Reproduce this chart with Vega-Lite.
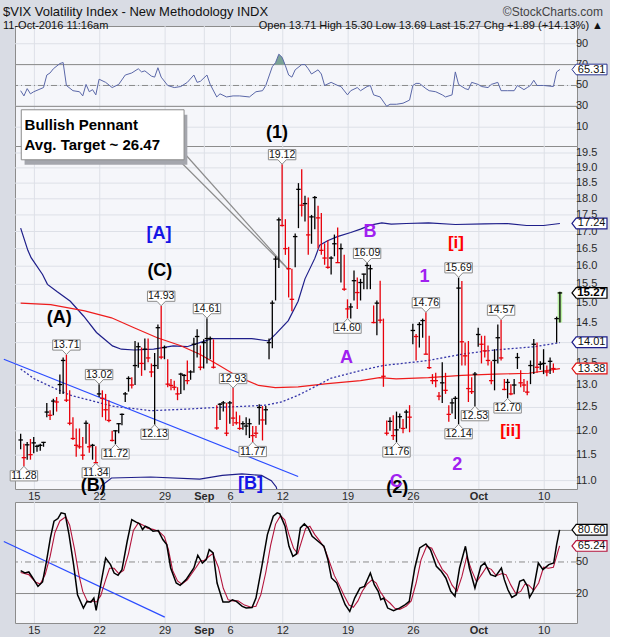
{
  "$schema": "https://vega.github.io/schema/vega-lite/v6.json",
  "background": "#d9dce4",
  "padding": {"left": 0, "top": 5, "right": 0, "bottom": 0},
  "bounds": "flush",
  "spacing": 0,
  "title": {"text": "$VIX  Volatility Index - New Methodology  INDX", "subtitle": "11-Oct-2016 11:16am", "anchor": "start", "frame": "group", "font": "Liberation Sans", "fontSize": 13, "fontWeight": "normal", "color": "#111111", "subtitleFont": "Liberation Sans", "subtitleFontSize": 11, "subtitleColor": "#111111", "subtitlePadding": 1, "offset": 1, "dx": -12, "dy": 27},
  "config": {
    "font": "Liberation Sans",
    "view": {"stroke": "#8c8c8c", "strokeWidth": 1, "fill": "#f5f6fa"},
    "axis": {"disable": true}
  },
  "resolve": {"scale": {"x": "shared", "y": "independent", "color": "independent", "stroke": "independent"}},
  "datasets": {
    "bars": [
      {"i":0,"h":11.94,"l":11.62,"c":11.81,"d":"up"},{"i":1,"h":11.73,"l":11.28,"c":11.45,"d":"down"},{"i":2,"h":11.77,"l":11.41,"c":11.71,"d":"up"},{"i":3,"h":11.83,"l":11.41,"c":11.51,"d":"down"},
      {"i":4,"h":11.87,"l":11.54,"c":11.75,"d":"up"},{"i":5,"h":11.71,"l":11.57,"c":11.68,"d":"up"},{"i":6,"h":11.73,"l":11.59,"c":11.70,"d":"up"},{"i":7,"h":11.77,"l":11.67,"c":11.76,"d":"up"},
      {"i":8,"h":12.60,"l":12.29,"c":12.40,"d":"up"},{"i":9,"h":12.44,"l":12.23,"c":12.33,"d":"down"},{"i":10,"h":12.69,"l":12.33,"c":12.64,"d":"up"},{"i":11,"h":12.73,"l":12.41,"c":12.62,"d":"down"},
      {"i":12,"h":13.24,"l":12.80,"c":13.01,"d":"up"},{"i":13,"h":13.64,"l":12.80,"c":13.57,"d":"up"},{"i":14,"h":13.71,"l":12.62,"c":12.66,"d":"down"},{"i":15,"h":12.88,"l":12.12,"c":12.16,"d":"down"},
      {"i":16,"h":12.29,"l":11.81,"c":11.84,"d":"down"},{"i":17,"h":12.05,"l":11.47,"c":11.70,"d":"down"},{"i":18,"h":12.05,"l":11.63,"c":11.67,"d":"down"},{"i":19,"h":11.87,"l":11.41,"c":11.50,"d":"down"},
      {"i":20,"h":12.22,"l":11.73,"c":12.16,"d":"up"},{"i":21,"h":12.15,"l":11.55,"c":11.67,"d":"down"},{"i":22,"h":11.73,"l":11.41,"c":11.70,"d":"up"},{"i":23,"h":11.68,"l":11.34,"c":11.35,"d":"down"},
      {"i":24,"h":13.02,"l":12.73,"c":12.80,"d":"up"},{"i":25,"h":12.88,"l":12.29,"c":12.70,"d":"down"},{"i":26,"h":12.80,"l":12.22,"c":12.45,"d":"down"},{"i":27,"h":12.66,"l":12.18,"c":12.22,"d":"down"},
      {"i":28,"h":12.00,"l":11.78,"c":11.80,"d":"down"},{"i":29,"h":12.01,"l":11.72,"c":12.00,"d":"up"},{"i":30,"h":12.16,"l":11.95,"c":12.15,"d":"up"},{"i":31,"h":12.37,"l":12.12,"c":12.35,"d":"up"},
      {"i":32,"h":12.84,"l":12.62,"c":12.80,"d":"up"},{"i":33,"h":13.20,"l":12.85,"c":13.15,"d":"up"},{"i":34,"h":13.18,"l":12.92,"c":13.00,"d":"down"},{"i":35,"h":14.04,"l":13.00,"c":13.45,"d":"up"},
      {"i":36,"h":14.00,"l":13.40,"c":13.90,"d":"up"},{"i":37,"h":13.88,"l":13.21,"c":13.50,"d":"down"},{"i":38,"h":14.10,"l":13.34,"c":13.84,"d":"up"},{"i":39,"h":14.10,"l":13.53,"c":13.63,"d":"down"},
      {"i":40,"h":13.50,"l":13.18,"c":13.30,"d":"down"},{"i":41,"h":13.75,"l":12.13,"c":13.45,"d":"up"},{"i":42,"h":14.45,"l":13.37,"c":14.37,"d":"up"},{"i":43,"h":14.93,"l":13.60,"c":13.65,"d":"down"},
      {"i":44,"h":13.93,"l":13.60,"c":13.88,"d":"up"},{"i":45,"h":13.60,"l":12.95,"c":13.02,"d":"down"},{"i":46,"h":13.14,"l":12.88,"c":12.99,"d":"down"},{"i":47,"h":13.10,"l":12.88,"c":12.95,"d":"down"},
      {"i":48,"h":12.95,"l":12.66,"c":12.80,"d":"down"},{"i":49,"h":13.28,"l":12.80,"c":13.25,"d":"up"},{"i":50,"h":13.25,"l":12.88,"c":13.22,"d":"up"},{"i":51,"h":13.57,"l":13.02,"c":13.10,"d":"down"},
      {"i":52,"h":13.34,"l":13.12,"c":13.30,"d":"up"},{"i":53,"h":14.12,"l":13.28,"c":13.96,"d":"up"},{"i":54,"h":14.33,"l":13.64,"c":14.15,"d":"up"},{"i":55,"h":13.93,"l":13.34,"c":13.41,"d":"down"},
      {"i":56,"h":14.08,"l":13.38,"c":14.00,"d":"up"},{"i":57,"h":14.61,"l":13.50,"c":14.10,"d":"up"},{"i":58,"h":14.15,"l":13.60,"c":14.10,"d":"up"},{"i":59,"h":14.08,"l":13.38,"c":13.41,"d":"down"},
      {"i":60,"h":12.55,"l":12.02,"c":12.06,"d":"down"},{"i":61,"h":12.60,"l":12.23,"c":12.57,"d":"up"},{"i":62,"h":12.64,"l":12.41,"c":12.60,"d":"up"},{"i":63,"h":12.60,"l":11.89,"c":11.95,"d":"down"},
      {"i":64,"h":12.64,"l":12.15,"c":12.60,"d":"up"},{"i":65,"h":12.93,"l":12.10,"c":12.27,"d":"down"},{"i":66,"h":12.41,"l":12.13,"c":12.17,"d":"down"},{"i":67,"h":12.33,"l":12.02,"c":12.05,"d":"down"},
      {"i":68,"h":12.20,"l":12.02,"c":12.15,"d":"up"},{"i":69,"h":12.29,"l":11.91,"c":12.10,"d":"up"},{"i":70,"h":12.26,"l":11.85,"c":12.15,"d":"up"},{"i":71,"h":12.10,"l":11.77,"c":11.90,"d":"down"},
      {"i":72,"h":12.10,"l":11.85,"c":11.95,"d":"down"},{"i":73,"h":12.57,"l":12.13,"c":12.50,"d":"up"},{"i":74,"h":12.53,"l":11.80,"c":12.23,"d":"down"},{"i":75,"h":12.53,"l":12.13,"c":12.45,"d":"up"},
      {"i":76,"h":14.10,"l":13.60,"c":14.00,"d":"up"},{"i":77,"h":15.07,"l":13.86,"c":15.00,"d":"up"},{"i":78,"h":16.28,"l":15.07,"c":16.20,"d":"up"},{"i":79,"h":17.42,"l":15.95,"c":17.35,"d":"up"},
      {"i":80,"h":19.12,"l":17.15,"c":17.18,"d":"down"},{"i":81,"h":17.37,"l":16.32,"c":16.50,"d":"down"},{"i":82,"h":16.55,"l":15.15,"c":15.93,"d":"down"},{"i":83,"h":15.93,"l":14.79,"c":15.10,"d":"down"},
      {"i":84,"h":16.94,"l":15.97,"c":16.85,"d":"up"},{"i":85,"h":18.50,"l":17.10,"c":18.30,"d":"up"},{"i":86,"h":18.95,"l":17.45,"c":17.80,"d":"down"},{"i":87,"h":18.10,"l":17.30,"c":17.85,"d":"up"},
      {"i":88,"h":18.04,"l":16.32,"c":16.90,"d":"down"},{"i":89,"h":17.50,"l":16.64,"c":17.44,"d":"up"},{"i":90,"h":18.09,"l":17.07,"c":18.04,"d":"up"},{"i":91,"h":17.78,"l":16.50,"c":17.41,"d":"down"},
      {"i":92,"h":17.56,"l":16.32,"c":16.45,"d":"down"},{"i":93,"h":16.65,"l":16.04,"c":16.23,"d":"down"},{"i":94,"h":16.74,"l":15.93,"c":15.97,"d":"down"},{"i":95,"h":16.28,"l":15.77,"c":16.23,"d":"up"},
      {"i":96,"h":16.91,"l":16.28,"c":16.64,"d":"up"},{"i":97,"h":17.12,"l":16.10,"c":16.10,"d":"down"},{"i":98,"h":16.65,"l":15.55,"c":16.50,"d":"up"},{"i":99,"h":16.32,"l":15.33,"c":15.37,"d":"down"},
      {"i":100,"h":15.10,"l":14.60,"c":14.85,"d":"down"},{"i":101,"h":15.00,"l":14.60,"c":14.90,"d":"up"},{"i":102,"h":15.88,"l":15.07,"c":15.60,"d":"up"},{"i":103,"h":15.69,"l":14.85,"c":15.28,"d":"down"},
      {"i":104,"h":15.65,"l":15.07,"c":15.55,"d":"up"},{"i":105,"h":15.79,"l":15.37,"c":15.78,"d":"up"},{"i":106,"h":16.09,"l":15.37,"c":16.02,"d":"up"},{"i":107,"h":16.04,"l":15.37,"c":15.93,"d":"up"},
      {"i":108,"h":14.94,"l":14.48,"c":14.50,"d":"down"},{"i":109,"h":15.07,"l":14.18,"c":15.00,"d":"up"},{"i":110,"h":15.60,"l":14.48,"c":14.56,"d":"down"},{"i":111,"h":14.60,"l":12.96,"c":13.20,"d":"down"},
      {"i":112,"h":12.22,"l":11.90,"c":11.95,"d":"down"},{"i":113,"h":12.29,"l":12.00,"c":12.20,"d":"up"},{"i":114,"h":12.33,"l":11.81,"c":11.90,"d":"down"},{"i":115,"h":12.41,"l":11.76,"c":12.02,"d":"up"},
      {"i":116,"h":12.37,"l":12.05,"c":12.30,"d":"up"},{"i":117,"h":12.25,"l":11.95,"c":12.05,"d":"down"},{"i":118,"h":12.45,"l":12.05,"c":12.40,"d":"up"},{"i":119,"h":12.55,"l":11.97,"c":12.29,"d":"down"},
      {"i":120,"h":14.47,"l":13.96,"c":14.30,"d":"up"},{"i":121,"h":14.21,"l":13.57,"c":14.15,"d":"down"},{"i":122,"h":14.51,"l":13.88,"c":14.45,"d":"up"},{"i":123,"h":14.60,"l":14.12,"c":14.55,"d":"up"},
      {"i":124,"h":14.76,"l":13.72,"c":13.72,"d":"down"},{"i":125,"h":14.17,"l":13.37,"c":13.40,"d":"down"},{"i":126,"h":13.25,"l":13.02,"c":13.10,"d":"down"},{"i":127,"h":13.28,"l":12.95,"c":13.10,"d":"down"},
      {"i":128,"h":12.84,"l":12.66,"c":12.75,"d":"down"},{"i":129,"h":13.53,"l":12.60,"c":13.05,"d":"up"},{"i":130,"h":13.28,"l":12.80,"c":12.88,"d":"down"},{"i":131,"h":12.55,"l":12.19,"c":12.35,"d":"down"},
      {"i":132,"h":12.70,"l":12.37,"c":12.60,"d":"up"},{"i":133,"h":12.75,"l":12.25,"c":12.70,"d":"up"},{"i":134,"h":15.69,"l":12.14,"c":15.40,"d":"up"},{"i":135,"h":15.59,"l":13.45,"c":14.02,"d":"down"},
      {"i":136,"h":14.00,"l":13.45,"c":13.68,"d":"down"},{"i":137,"h":14.04,"l":12.62,"c":12.92,"d":"down"},{"i":138,"h":13.18,"l":12.80,"c":12.85,"d":"down"},{"i":139,"h":13.30,"l":12.53,"c":13.25,"d":"up"},
      {"i":140,"h":14.37,"l":13.90,"c":14.20,"d":"up"},{"i":141,"h":14.17,"l":13.50,"c":13.96,"d":"down"},{"i":142,"h":14.17,"l":13.64,"c":13.80,"d":"down"},{"i":143,"h":13.93,"l":13.45,"c":13.57,"d":"down"},
      {"i":144,"h":13.55,"l":13.02,"c":13.10,"d":"down"},{"i":145,"h":13.84,"l":12.88,"c":13.57,"d":"up"},{"i":146,"h":14.45,"l":13.50,"c":14.12,"d":"up"},{"i":147,"h":14.57,"l":13.57,"c":13.63,"d":"down"},
      {"i":148,"h":13.14,"l":12.88,"c":12.90,"d":"down"},{"i":149,"h":13.14,"l":12.70,"c":13.06,"d":"up"},{"i":150,"h":13.02,"l":12.77,"c":12.80,"d":"down"},{"i":151,"h":13.14,"l":12.79,"c":13.00,"d":"up"},
      {"i":152,"h":13.75,"l":13.37,"c":13.64,"d":"up"},{"i":153,"h":13.34,"l":12.95,"c":13.05,"d":"down"},{"i":154,"h":13.14,"l":12.84,"c":13.00,"d":"down"},{"i":155,"h":13.10,"l":12.77,"c":12.84,"d":"down"},
      {"i":156,"h":13.57,"l":13.02,"c":13.45,"d":"up"},{"i":157,"h":14.09,"l":13.25,"c":13.96,"d":"up"},{"i":158,"h":14.00,"l":13.28,"c":13.41,"d":"down"},{"i":159,"h":13.55,"l":13.35,"c":13.48,"d":"up"},
      {"i":160,"h":13.84,"l":13.25,"c":13.50,"d":"up"},{"i":161,"h":13.45,"l":13.20,"c":13.30,"d":"down"},{"i":162,"h":13.64,"l":13.25,"c":13.55,"d":"up"},{"i":163,"h":13.50,"l":13.28,"c":13.38,"d":"down"},
      {"i":164,"h":14.65,"l":14.00,"c":14.60,"d":"up"},{"i":165,"h":15.30,"l":14.50,"c":15.27,"d":"up"}
    ],
    "xticks": [{"i":4.2,"t":"15","kind":"day"},{"i":24.2,"t":"22","kind":"day"},{"i":44.2,"t":"29","kind":"day"},{"i":56.2,"t":"Sep","kind":"month"},{"i":64.2,"t":"6","kind":"day"},{"i":80.2,"t":"12","kind":"day"},{"i":100.2,"t":"19","kind":"day"},{"i":120.2,"t":"26","kind":"day"},{"i":140.2,"t":"Oct","kind":"month"},{"i":160.2,"t":"10","kind":"day"}],
    "pticks": [{"v":11},{"v":11.5},{"v":12},{"v":12.5},{"v":13},{"v":13.5},{"v":14},{"v":14.5},{"v":15},{"v":15.5},{"v":16},{"v":16.5},{"v":17},{"v":17.5},{"v":18},{"v":18.5},{"v":19},{"v":19.5}],
    "rticks": [{"v":10},{"v":30},{"v":50},{"v":70},{"v":90}],
    "sticks": [{"v":20},{"v":50},{"v":80}],
    "upper": [{"i":0,"v":17.1},{"i":2.2,"v":16.45},{"i":3.2,"v":16.24},{"i":6.7,"v":15.77},{"i":8.2,"v":15.5},{"i":11.2,"v":15.3},{"i":15.2,"v":15.05},{"i":19.3,"v":14.66},{"i":23.2,"v":14.25},{"i":26.3,"v":14.04},{"i":28.1,"v":13.92},{"i":30.8,"v":13.84},{"i":34.7,"v":13.82},{"i":40.7,"v":13.84},{"i":46.7,"v":13.92},{"i":50.9,"v":13.9},{"i":54.8,"v":14.0},{"i":58.7,"v":14.1},{"i":64.7,"v":14.1},{"i":70.7,"v":14.1},{"i":75.9,"v":14.04},{"i":78,"v":14.21},{"i":81.9,"v":14.55},{"i":84.9,"v":15.05},{"i":87,"v":15.65},{"i":90,"v":16.22},{"i":91.5,"v":16.6},{"i":93.9,"v":16.73},{"i":96.9,"v":16.85},{"i":101,"v":16.97},{"i":104,"v":17.07},{"i":107,"v":17.19},{"i":110.5,"v":17.26},{"i":113.4,"v":17.22},{"i":118,"v":17.24},{"i":124.8,"v":17.26},{"i":133,"v":17.21},{"i":142,"v":17.23},{"i":148.9,"v":17.24},{"i":154.8,"v":17.18},{"i":160,"v":17.18},{"i":165,"v":17.24}],
    "lower": [{"i":23.2,"v":10.6},{"i":24.7,"v":10.9},{"i":27.8,"v":11.05},{"i":39.8,"v":11.07},{"i":54.8,"v":11.03},{"i":61.7,"v":11.1},{"i":67.7,"v":11.13},{"i":73.7,"v":11.1},{"i":76.7,"v":11.0},{"i":78.2,"v":10.88},{"i":79.7,"v":10.5}],
    "ma": [{"i":0,"v":15.0},{"i":9.2,"v":14.96},{"i":19.6,"v":14.8},{"i":27.8,"v":14.62},{"i":34.7,"v":14.37},{"i":41.8,"v":14.12},{"i":48.8,"v":13.93},{"i":54.8,"v":13.72},{"i":60.8,"v":13.45},{"i":66.8,"v":13.18},{"i":72.8,"v":12.99},{"i":77.9,"v":12.94},{"i":84.9,"v":12.96},{"i":93.9,"v":13.03},{"i":104,"v":13.1},{"i":109.8,"v":13.17},{"i":114.9,"v":13.14},{"i":124.8,"v":13.17},{"i":135,"v":13.22},{"i":145,"v":13.25},{"i":155.5,"v":13.27},{"i":165,"v":13.38}],
    "ma2": [{"i":0,"v":13.37},{"i":4.2,"v":13.14},{"i":9.7,"v":12.95},{"i":15.2,"v":12.77},{"i":21.2,"v":12.66},{"i":28.1,"v":12.53},{"i":39.8,"v":12.43},{"i":49.8,"v":12.46},{"i":59.8,"v":12.5},{"i":69.8,"v":12.53},{"i":74.9,"v":12.55},{"i":79.8,"v":12.62},{"i":84.9,"v":12.77},{"i":90,"v":12.96},{"i":94.8,"v":13.15},{"i":104.9,"v":13.35},{"i":110.9,"v":13.45},{"i":124.8,"v":13.57},{"i":135,"v":13.72},{"i":145,"v":13.82},{"i":157.2,"v":13.9},{"i":165,"v":14.0}],
    "trend": [{"i":-5.15,"v":13.6},{"i":84.9,"v":11.08}],
    "strend": [{"i":-5.15,"v":69.5},{"i":44.1,"v":-2.4}],
    "hiLabels": [{"i":14,"v":13.71},{"i":24,"v":13.02},{"i":43,"v":14.93},{"i":57,"v":14.61},{"i":65,"v":12.93},{"i":80,"v":19.12},{"i":106,"v":16.09},{"i":124,"v":14.76},{"i":134,"v":15.69},{"i":147,"v":14.57}],
    "loLabels": [{"i":1,"v":11.28},{"i":23,"v":11.34},{"i":29,"v":11.72},{"i":41,"v":12.13},{"i":71,"v":11.77},{"i":100,"v":14.60},{"i":115,"v":11.76},{"i":134,"v":12.14},{"i":139,"v":12.53},{"i":149,"v":12.70}],
    "waves": [
      {"t":"(1)","i":78.4,"v":20.21,"g":"primary"},{"t":"(A)","i":11.8,"v":14.62,"g":"primary"},{"t":"(C)","i":42.6,"v":15.87,"g":"primary"},{"t":"(B)","i":22.2,"v":10.89,"g":"primary"},{"t":"(2)","i":115.2,"v":10.85,"g":"primary"},
      {"t":"[A]","i":42.3,"v":16.92,"g":"intermediate"},{"t":"[B]","i":70.3,"v":10.94,"g":"intermediate"},
      {"t":"B","i":106.9,"v":17.0,"g":"minor"},{"t":"A","i":99.7,"v":13.64,"g":"minor"},{"t":"C","i":114.9,"v":10.97,"g":"minor"},{"t":"1","i":123.6,"v":15.7,"g":"minor"},{"t":"2","i":133.6,"v":11.3,"g":"minor"},
      {"t":"[i]","i":133.2,"v":16.67,"g":"minute"},{"t":"[ii]","i":149.9,"v":12.0,"g":"minute"}
    ],
    "note": [{"t":"Bullish Pennant","i":1.2,"v":20.49},{"t":"Avg. Target ~ 26.47","i":1.2,"v":19.76}],
    "callout": [{"k":"a","i":48.3,"v":19.27},{"k":"a","i":81.9,"v":15.91},{"k":"b","i":50.0,"v":19.5},{"k":"b","i":81.9,"v":15.91}],
    "ptags": [{"v":17.24,"k":"band"},{"v":15.27,"k":"last"},{"v":14.01,"k":"ma2"},{"v":13.38,"k":"ma"}],
    "rsi": [{"i":0,"v":45},{"i":1,"v":40},{"i":2,"v":47},{"i":3,"v":42},{"i":4,"v":44},{"i":7,"v":48},{"i":8,"v":60},{"i":9,"v":62},{"i":10,"v":66},{"i":12,"v":71},{"i":13,"v":72},{"i":14,"v":50},{"i":16,"v":45},{"i":18,"v":44},{"i":19,"v":40},{"i":20,"v":51},{"i":21,"v":44},{"i":22,"v":46},{"i":23,"v":41},{"i":24,"v":56},{"i":26,"v":53},{"i":28,"v":48},{"i":30,"v":51},{"i":32,"v":60},{"i":34,"v":62},{"i":36,"v":66},{"i":37,"v":63},{"i":38,"v":64},{"i":40,"v":59},{"i":41,"v":58},{"i":42,"v":67},{"i":43,"v":58},{"i":45,"v":50},{"i":47,"v":48},{"i":49,"v":49},{"i":51,"v":53},{"i":53,"v":60},{"i":54,"v":53},{"i":55,"v":54},{"i":57,"v":60},{"i":58,"v":51},{"i":60,"v":39},{"i":61,"v":42},{"i":63,"v":39},{"i":65,"v":40},{"i":67,"v":40},{"i":70,"v":39},{"i":72,"v":44},{"i":74,"v":45},{"i":75,"v":50},{"i":77,"v":68},{"i":78,"v":72},{"i":79,"v":80},{"i":80,"v":77},{"i":81,"v":69},{"i":82,"v":60},{"i":83,"v":58},{"i":84,"v":65},{"i":86,"v":70},{"i":87,"v":70},{"i":88,"v":66},{"i":89,"v":61},{"i":91,"v":65},{"i":92,"v":61},{"i":93,"v":50},{"i":95,"v":53},{"i":97,"v":50},{"i":98,"v":49},{"i":100,"v":41},{"i":101,"v":45},{"i":103,"v":48},{"i":104,"v":45},{"i":106,"v":49},{"i":107,"v":50},{"i":108,"v":41},{"i":110,"v":39},{"i":112,"v":30},{"i":113,"v":32},{"i":115,"v":32},{"i":117,"v":33},{"i":119,"v":36},{"i":120,"v":50},{"i":121,"v":52},{"i":122,"v":52},{"i":124,"v":47},{"i":125,"v":45},{"i":127,"v":44},{"i":129,"v":41},{"i":130,"v":39},{"i":132,"v":41},{"i":133,"v":63},{"i":134,"v":51},{"i":136,"v":47},{"i":137,"v":46},{"i":138,"v":53},{"i":140,"v":51},{"i":141,"v":49},{"i":143,"v":48},{"i":144,"v":51},{"i":146,"v":53},{"i":147,"v":45},{"i":149,"v":45},{"i":151,"v":45},{"i":152,"v":50},{"i":154,"v":46},{"i":155,"v":48},{"i":156,"v":50},{"i":157,"v":55},{"i":158,"v":50},{"i":160,"v":50},{"i":163,"v":49},{"i":164,"v":63},{"i":165,"v":65.31}],
    "rsifill": [{"i":77.5,"v":70},{"i":78,"v":72},{"i":79,"v":80},{"i":80,"v":77},{"i":80.9,"v":70}],
    "stochK": [{"i":0,"v":41.7},{"i":1.3,"v":39.5},{"i":2.5,"v":40.5},{"i":3.7,"v":34.8},{"i":5.3,"v":26.8},{"i":6.7,"v":31},{"i":7.9,"v":50.6},{"i":9.1,"v":72.9},{"i":10.2,"v":88.7},{"i":11.4,"v":91.3},{"i":12.4,"v":96.7},{"i":13.6,"v":95.7},{"i":14.8,"v":76},{"i":16.2,"v":47.5},{"i":17.4,"v":18.9},{"i":19.2,"v":6.2},{"i":20.3,"v":12.5},{"i":21.5,"v":11.9},{"i":22.4,"v":15.7},{"i":23.1,"v":4},{"i":24.5,"v":28.4},{"i":26,"v":53.8},{"i":27.5,"v":47.5},{"i":28.6,"v":39.5},{"i":29.8,"v":37.3},{"i":31,"v":42.7},{"i":32.6,"v":69.7},{"i":34,"v":90.3},{"i":35.2,"v":88.1},{"i":36.4,"v":86.2},{"i":37.3,"v":80.8},{"i":38.1,"v":84},{"i":39.3,"v":82.4},{"i":40.5,"v":79.2},{"i":42.1,"v":79.8},{"i":43.5,"v":71.3},{"i":44.7,"v":66.5},{"i":45.9,"v":44.3},{"i":47.6,"v":30},{"i":48.8,"v":27.8},{"i":50.6,"v":33.2},{"i":53,"v":44.3},{"i":54.2,"v":56.4},{"i":55.6,"v":49},{"i":56.8,"v":52.2},{"i":57.7,"v":61.7},{"i":58.9,"v":58.6},{"i":60.1,"v":30},{"i":61.9,"v":11.9},{"i":63.7,"v":11.9},{"i":64.8,"v":14.1},{"i":66,"v":12.5},{"i":67.8,"v":7.8},{"i":69,"v":6.2},{"i":70.8,"v":6.8},{"i":72,"v":15.7},{"i":73.8,"v":45.9},{"i":75.5,"v":76},{"i":77.3,"v":93.5},{"i":78.5,"v":96.7},{"i":79.3,"v":95.7},{"i":80.9,"v":84},{"i":82.1,"v":64.9},{"i":83.3,"v":55.4},{"i":84.4,"v":57.6},{"i":85.6,"v":82.4},{"i":86.8,"v":86.2},{"i":88,"v":82.4},{"i":89.2,"v":74.4},{"i":91,"v":69.7},{"i":92.8,"v":64.9},{"i":94,"v":52.2},{"i":95.1,"v":34.8},{"i":96.7,"v":30},{"i":98.1,"v":18.9},{"i":99.3,"v":9.4},{"i":100.7,"v":3},{"i":102.2,"v":15.7},{"i":103.8,"v":25.2},{"i":105.2,"v":26.8},{"i":107,"v":39.5},{"i":108.2,"v":28.4},{"i":109.4,"v":22.1},{"i":110.2,"v":14.1},{"i":111.1,"v":15.7},{"i":112.3,"v":6.2},{"i":114.1,"v":3.6},{"i":115.9,"v":6.2},{"i":117.7,"v":9.4},{"i":118.9,"v":12.5},{"i":120.6,"v":44.3},{"i":122.1,"v":63.3},{"i":124,"v":67.1},{"i":125.4,"v":61.7},{"i":127.2,"v":45.9},{"i":128.7,"v":41.1},{"i":130.1,"v":34.8},{"i":131.6,"v":22.1},{"i":132.9,"v":17.3},{"i":134.3,"v":44.3},{"i":136.1,"v":64.9},{"i":137.3,"v":44.3},{"i":139,"v":25.2},{"i":140.8,"v":45.9},{"i":142,"v":49},{"i":143.8,"v":37.9},{"i":145.3,"v":36.3},{"i":147.1,"v":44.3},{"i":148,"v":33.2},{"i":149.1,"v":23.6},{"i":150.3,"v":16.3},{"i":151.7,"v":18.9},{"i":152.7,"v":31.6},{"i":153.9,"v":33.2},{"i":155.1,"v":26.8},{"i":155.7,"v":16.3},{"i":156.8,"v":22.1},{"i":158.4,"v":49},{"i":159.8,"v":42.7},{"i":161.6,"v":47.5},{"i":163.1,"v":49},{"i":164,"v":66.5},{"i":164.9,"v":80.6}],
    "stochD": [{"i":0,"v":40},{"i":2.5,"v":38},{"i":4.5,"v":31},{"i":6,"v":29},{"i":7.5,"v":38},{"i":9,"v":55},{"i":10.5,"v":78},{"i":12,"v":89},{"i":13.8,"v":93},{"i":15,"v":85},{"i":16.5,"v":62},{"i":17.8,"v":38},{"i":19,"v":22},{"i":20.5,"v":12},{"i":22,"v":13},{"i":23.2,"v":12},{"i":24.5,"v":18},{"i":26,"v":33},{"i":27.2,"v":44},{"i":28.6,"v":44},{"i":30,"v":39},{"i":31.5,"v":42},{"i":33,"v":58},{"i":34.5,"v":80},{"i":36,"v":87},{"i":37.5,"v":85},{"i":38.8,"v":82},{"i":40.5,"v":81},{"i":42.3,"v":79},{"i":44,"v":74},{"i":45.2,"v":62},{"i":46.5,"v":42},{"i":48,"v":32},{"i":49.3,"v":29},{"i":51,"v":33},{"i":53.5,"v":44},{"i":55,"v":51},{"i":56,"v":51},{"i":57.5,"v":55},{"i":58.8,"v":58},{"i":60.5,"v":45},{"i":62,"v":25},{"i":63.5,"v":14},{"i":65,"v":13},{"i":66.5,"v":13},{"i":68.5,"v":9},{"i":70.5,"v":7},{"i":72,"v":8},{"i":73.5,"v":19},{"i":75,"v":40},{"i":76.5,"v":66},{"i":78,"v":86},{"i":79.5,"v":94},{"i":80.8,"v":90},{"i":82,"v":77},{"i":83.5,"v":63},{"i":84.8,"v":58},{"i":86,"v":70},{"i":87.2,"v":82},{"i":88.5,"v":84},{"i":90,"v":76},{"i":91.5,"v":70},{"i":93,"v":63},{"i":94.5,"v":50},{"i":96,"v":37},{"i":97.5,"v":28},{"i":99,"v":18},{"i":100.5,"v":9},{"i":101.8,"v":7},{"i":103.2,"v":13},{"i":104.5,"v":22},{"i":106,"v":29},{"i":107.5,"v":33},{"i":108.8,"v":30},{"i":110,"v":22},{"i":111.5,"v":15},{"i":113,"v":11},{"i":114.5,"v":6},{"i":116,"v":5},{"i":118,"v":8},{"i":119.5,"v":13},{"i":121,"v":30},{"i":122.5,"v":52},{"i":124.2,"v":65},{"i":125.8,"v":63},{"i":127.5,"v":52},{"i":129,"v":43},{"i":130.5,"v":38},{"i":132,"v":28},{"i":133.5,"v":22},{"i":135,"v":36},{"i":136.5,"v":55},{"i":138,"v":42},{"i":139.5,"v":31},{"i":141,"v":38},{"i":142.5,"v":45},{"i":144,"v":43},{"i":145.5,"v":37},{"i":147.3,"v":39},{"i":148.5,"v":38},{"i":150,"v":28},{"i":151.5,"v":20},{"i":153,"v":22},{"i":154.3,"v":29},{"i":155.5,"v":28},{"i":157,"v":23},{"i":158.5,"v":30},{"i":160,"v":45},{"i":161.5,"v":44},{"i":163,"v":45},{"i":164.9,"v":65.24}],
    "stags": [{"v":80.60,"k":"k"},{"v":65.24,"k":"d"}]
  },
  "vconcat": [
    {
      "width": 562, "height": 120,
      "title": {"text": "©StockCharts.com", "subtitle": "Open 13.71  High 15.30  Low 13.69  Last 15.27  Chg +1.89 (+14.13%) ▲", "anchor": "end", "frame": "group", "font": "Liberation Sans", "fontSize": 12, "fontWeight": "normal", "color": "#444444", "subtitleFont": "Liberation Sans", "subtitleFontSize": 11, "subtitleColor": "#111111", "subtitlePadding": 1, "offset": -6, "dx": 26},
      "layer": [
        {"data": {"name": "rticks"}, "mark": {"type": "rule", "color": "#dde0e7", "strokeWidth": 1},
         "encoding": {"y": {"field": "v", "type": "quantitative", "scale": {"domain": [-8, 107], "nice": false, "zero": false}}}},
        {"data": {"name": "xticks"}, "mark": {"type": "rule", "color": "#dde0e7", "strokeWidth": 1},
         "encoding": {"x": {"field": "i", "type": "quantitative", "scale": {"domain": [-0.2, 168.7], "nice": false, "zero": false}}}},
        {"data": {"values": [{"v": 30}, {"v": 70}]}, "mark": {"type": "rule", "color": "#8a8a8a", "strokeWidth": 1},
         "encoding": {"y": {"field": "v", "type": "quantitative", "scale": {"domain": [-8, 107], "nice": false, "zero": false}}}},
        {"data": {"values": [{"v": 50}]}, "mark": {"type": "rule", "color": "#8a8a8a", "strokeWidth": 1, "strokeDash": [6, 3, 1, 3]},
         "encoding": {"y": {"field": "v", "type": "quantitative", "scale": {"domain": [-8, 107], "nice": false, "zero": false}}}},
        {"data": {"name": "rsifill"}, "mark": {"type": "area", "color": "#7ba396", "opacity": 1},
         "encoding": {"x": {"field": "i", "type": "quantitative", "scale": {"domain": [-0.2, 168.7], "nice": false, "zero": false}},
                      "y": {"field": "v", "type": "quantitative", "scale": {"domain": [-8, 107], "nice": false, "zero": false}},
                      "y2": {"datum": 70}}},
        {"data": {"name": "rsi"}, "mark": {"type": "line", "color": "#5a67a8", "strokeWidth": 1},
         "encoding": {"x": {"field": "i", "type": "quantitative", "scale": {"domain": [-0.2, 168.7], "nice": false, "zero": false}},
                      "y": {"field": "v", "type": "quantitative", "scale": {"domain": [-8, 107], "nice": false, "zero": false}}}},
        {"data": {"name": "rticks"}, "mark": {"type": "text", "fontSize": 11, "dx": 4, "align": "left", "baseline": "middle", "color": "#2a2a2a", "clip": false},
         "encoding": {"x": {"datum": 168.7, "type": "quantitative", "scale": {"domain": [-0.2, 168.7], "nice": false, "zero": false}},
                      "y": {"field": "v", "type": "quantitative", "scale": {"domain": [-8, 107], "nice": false, "zero": false}},
                      "text": {"field": "v", "type": "quantitative", "format": "d"}}},
        {"data": {"values": [{"v": 65.31}]}, "mark": {"type": "point", "shape": "M0,0L0.3,-0.38L2.5,-0.38L2.5,0.38L0.3,0.38Z", "size": 784, "filled": true, "fill": "#ffffff", "stroke": "#2a3590", "strokeWidth": 1, "opacity": 1, "clip": false},
         "encoding": {"x": {"datum": 168.7, "type": "quantitative", "scale": {"domain": [-0.2, 168.7], "nice": false, "zero": false}},
                      "y": {"field": "v", "type": "quantitative", "scale": {"domain": [-8, 107], "nice": false, "zero": false}}}},
        {"data": {"values": [{"v": 65.31}]}, "mark": {"type": "text", "fontSize": 11, "dx": 19.6, "align": "center", "baseline": "middle", "color": "#111111", "clip": false},
         "encoding": {"x": {"datum": 168.7, "type": "quantitative", "scale": {"domain": [-0.2, 168.7], "nice": false, "zero": false}},
                      "y": {"field": "v", "type": "quantitative", "scale": {"domain": [-8, 107], "nice": false, "zero": false}},
                      "text": {"field": "v", "type": "quantitative", "format": ".2f"}}}
      ]
    },
    {
      "width": 562, "height": 343,
      "layer": [
        {"data": {"name": "pticks"}, "mark": {"type": "rule", "color": "#dde0e7", "strokeWidth": 1},
         "encoding": {"y": {"field": "v", "type": "quantitative", "scale": {"type": "log", "domain": [10.84, 19.74], "nice": false, "zero": false}}}},
        {"data": {"name": "xticks"}, "mark": {"type": "rule", "color": "#dde0e7", "strokeWidth": 1},
         "encoding": {"x": {"field": "i", "type": "quantitative", "scale": {"domain": [-0.2, 168.7], "nice": false, "zero": false}}}},
        {"data": {"name": "lower"}, "mark": {"type": "line", "color": "#1e1e8a", "strokeWidth": 1.2, "clip": true},
         "encoding": {"x": {"field": "i", "type": "quantitative", "scale": {"domain": [-0.2, 168.7], "nice": false, "zero": false}},
                      "y": {"field": "v", "type": "quantitative", "scale": {"type": "log", "domain": [10.84, 19.74], "nice": false, "zero": false}}}},
        {"data": {"name": "upper"}, "mark": {"type": "line", "color": "#1e1e8a", "strokeWidth": 1.2},
         "encoding": {"x": {"field": "i", "type": "quantitative", "scale": {"domain": [-0.2, 168.7], "nice": false, "zero": false}},
                      "y": {"field": "v", "type": "quantitative", "scale": {"type": "log", "domain": [10.84, 19.74], "nice": false, "zero": false}}}},
        {"data": {"name": "ma"}, "mark": {"type": "line", "color": "#ee1c1c", "strokeWidth": 1.2},
         "encoding": {"x": {"field": "i", "type": "quantitative", "scale": {"domain": [-0.2, 168.7], "nice": false, "zero": false}},
                      "y": {"field": "v", "type": "quantitative", "scale": {"type": "log", "domain": [10.84, 19.74], "nice": false, "zero": false}}}},
        {"data": {"name": "ma2"}, "mark": {"type": "line", "color": "#3434a8", "strokeWidth": 1.3, "strokeDash": [2, 2]},
         "encoding": {"x": {"field": "i", "type": "quantitative", "scale": {"domain": [-0.2, 168.7], "nice": false, "zero": false}},
                      "y": {"field": "v", "type": "quantitative", "scale": {"type": "log", "domain": [10.84, 19.74], "nice": false, "zero": false}}}},
        {"data": {"name": "trend"}, "mark": {"type": "line", "color": "#2b4cff", "strokeWidth": 1.2, "clip": false},
         "encoding": {"x": {"field": "i", "type": "quantitative", "scale": {"domain": [-0.2, 168.7], "nice": false, "zero": false}},
                      "y": {"field": "v", "type": "quantitative", "scale": {"type": "log", "domain": [10.84, 19.74], "nice": false, "zero": false}}}},
        {"data": {"name": "callout"}, "mark": {"type": "line", "color": "#8c8c8c", "strokeWidth": 1.2, "clip": false},
         "encoding": {"x": {"field": "i", "type": "quantitative", "scale": {"domain": [-0.2, 168.7], "nice": false, "zero": false}},
                      "y": {"field": "v", "type": "quantitative", "scale": {"type": "log", "domain": [10.84, 19.74], "nice": false, "zero": false}},
                      "detail": {"field": "k"}}},
        {"data": {"values": [{}]}, "mark": {"type": "rect", "fill": "#a4a6ad", "clip": false},
         "encoding": {"x": {"datum": 1.2, "type": "quantitative", "scale": {"domain": [-0.2, 168.7], "nice": false, "zero": false}},
                      "x2": {"datum": 51.0},
                      "y": {"datum": 20.85, "type": "quantitative", "scale": {"type": "log", "domain": [10.84, 19.74], "nice": false, "zero": false}},
                      "y2": {"datum": 19.1}}},
        {"data": {"values": [{}]}, "mark": {"type": "rect", "fill": "#ffffff", "stroke": "#8c8c8c", "strokeWidth": 1, "clip": false},
         "encoding": {"x": {"datum": 0.19, "type": "quantitative", "scale": {"domain": [-0.2, 168.7], "nice": false, "zero": false}},
                      "x2": {"datum": 50.0},
                      "y": {"datum": 21.03, "type": "quantitative", "scale": {"type": "log", "domain": [10.84, 19.74], "nice": false, "zero": false}},
                      "y2": {"datum": 19.27}}},
        {"data": {"name": "note"}, "mark": {"type": "text", "align": "left", "baseline": "middle", "fontSize": 15, "fontWeight": "bold", "color": "#000000", "clip": false},
         "encoding": {"x": {"field": "i", "type": "quantitative", "scale": {"domain": [-0.2, 168.7], "nice": false, "zero": false}},
                      "y": {"field": "v", "type": "quantitative", "scale": {"type": "log", "domain": [10.84, 19.74], "nice": false, "zero": false}},
                      "text": {"field": "t"}}},
        {"data": {"name": "bars"}, "transform": [{"filter": "datum.i == 165"}], "mark": {"type": "bar", "color": "#b9f0a0", "width": 4.5},
         "encoding": {"x": {"field": "i", "type": "quantitative", "scale": {"domain": [-0.2, 168.7], "nice": false, "zero": false}},
                      "y": {"field": "l", "type": "quantitative", "scale": {"type": "log", "domain": [10.84, 19.74], "nice": false, "zero": false}},
                      "y2": {"field": "h"}}},
        {"data": {"name": "bars"}, "mark": {"type": "rule", "strokeWidth": 1.3},
         "encoding": {"x": {"field": "i", "type": "quantitative", "scale": {"domain": [-0.2, 168.7], "nice": false, "zero": false}},
                      "y": {"field": "h", "type": "quantitative", "scale": {"type": "log", "domain": [10.84, 19.74], "nice": false, "zero": false}},
                      "y2": {"field": "l"},
                      "color": {"field": "d", "type": "nominal", "scale": {"domain": ["up", "down"], "range": ["#000000", "#e8000b"]}, "legend": null}}},
        {"data": {"name": "bars"}, "mark": {"type": "point", "shape": "M-1,0L1,0", "size": 20, "filled": false, "strokeWidth": 1.3, "opacity": 1},
         "encoding": {"x": {"field": "i", "type": "quantitative", "scale": {"domain": [-0.2, 168.7], "nice": false, "zero": false}},
                      "y": {"field": "c", "type": "quantitative", "scale": {"type": "log", "domain": [10.84, 19.74], "nice": false, "zero": false}},
                      "color": {"field": "d", "type": "nominal", "scale": {"domain": ["up", "down"], "range": ["#000000", "#e8000b"]}, "legend": null}}},
        {"data": {"name": "hiLabels"}, "mark": {"type": "point", "shape": "M0,0L-0.3,-0.32L-0.98,-0.32L-0.98,-1.05L0.98,-1.05L0.98,-0.32L0.3,-0.32Z", "size": 784, "filled": true, "fill": "#ffffff", "stroke": "#8c8c8c", "strokeWidth": 1, "opacity": 1, "clip": false},
         "encoding": {"x": {"field": "i", "type": "quantitative", "scale": {"domain": [-0.2, 168.7], "nice": false, "zero": false}},
                      "y": {"field": "v", "type": "quantitative", "scale": {"type": "log", "domain": [10.84, 19.74], "nice": false, "zero": false}}}},
        {"data": {"name": "hiLabels"}, "mark": {"type": "text", "fontSize": 10.5, "dy": -9.6, "align": "center", "baseline": "middle", "color": "#111111", "clip": false},
         "encoding": {"x": {"field": "i", "type": "quantitative", "scale": {"domain": [-0.2, 168.7], "nice": false, "zero": false}},
                      "y": {"field": "v", "type": "quantitative", "scale": {"type": "log", "domain": [10.84, 19.74], "nice": false, "zero": false}},
                      "text": {"field": "v", "type": "quantitative", "format": ".2f"}}},
        {"data": {"name": "loLabels"}, "mark": {"type": "point", "shape": "M0,0L-0.3,0.32L-0.98,0.32L-0.98,1.05L0.98,1.05L0.98,0.32L0.3,0.32Z", "size": 784, "filled": true, "fill": "#ffffff", "stroke": "#8c8c8c", "strokeWidth": 1, "opacity": 1, "clip": false},
         "encoding": {"x": {"field": "i", "type": "quantitative", "scale": {"domain": [-0.2, 168.7], "nice": false, "zero": false}},
                      "y": {"field": "v", "type": "quantitative", "scale": {"type": "log", "domain": [10.84, 19.74], "nice": false, "zero": false}}}},
        {"data": {"name": "loLabels"}, "mark": {"type": "text", "fontSize": 10.5, "dy": 9.8, "align": "center", "baseline": "middle", "color": "#111111", "clip": false},
         "encoding": {"x": {"field": "i", "type": "quantitative", "scale": {"domain": [-0.2, 168.7], "nice": false, "zero": false}},
                      "y": {"field": "v", "type": "quantitative", "scale": {"type": "log", "domain": [10.84, 19.74], "nice": false, "zero": false}},
                      "text": {"field": "v", "type": "quantitative", "format": ".2f"}}},
        {"data": {"name": "xticks"}, "transform": [{"filter": "datum.kind == 'day'"}], "mark": {"type": "text", "fontSize": 11, "dy": 8, "align": "center", "baseline": "middle", "color": "#2a2a2a", "clip": false},
         "encoding": {"x": {"field": "i", "type": "quantitative", "scale": {"domain": [-0.2, 168.7], "nice": false, "zero": false}},
                      "y": {"datum": 10.84, "type": "quantitative", "scale": {"type": "log", "domain": [10.84, 19.74], "nice": false, "zero": false}},
                      "text": {"field": "t"}}},
        {"data": {"name": "xticks"}, "transform": [{"filter": "datum.kind == 'month'"}], "mark": {"type": "text", "fontSize": 11, "fontWeight": "bold", "dy": 8, "align": "center", "baseline": "middle", "color": "#2a2a2a", "clip": false},
         "encoding": {"x": {"field": "i", "type": "quantitative", "scale": {"domain": [-0.2, 168.7], "nice": false, "zero": false}},
                      "y": {"datum": 10.84, "type": "quantitative", "scale": {"type": "log", "domain": [10.84, 19.74], "nice": false, "zero": false}},
                      "text": {"field": "t"}}},
        {"data": {"name": "waves"}, "transform": [{"filter": "datum.g == 'primary'"}], "mark": {"type": "text", "fontSize": 18, "fontWeight": "bold", "align": "center", "baseline": "middle", "color": "#000000", "clip": false},
         "encoding": {"x": {"field": "i", "type": "quantitative", "scale": {"domain": [-0.2, 168.7], "nice": false, "zero": false}},
                      "y": {"field": "v", "type": "quantitative", "scale": {"type": "log", "domain": [10.84, 19.74], "nice": false, "zero": false}},
                      "text": {"field": "t"}}},
        {"data": {"name": "waves"}, "transform": [{"filter": "datum.g == 'intermediate'"}], "mark": {"type": "text", "fontSize": 18, "fontWeight": "bold", "align": "center", "baseline": "middle", "color": "#1515e6", "clip": false},
         "encoding": {"x": {"field": "i", "type": "quantitative", "scale": {"domain": [-0.2, 168.7], "nice": false, "zero": false}},
                      "y": {"field": "v", "type": "quantitative", "scale": {"type": "log", "domain": [10.84, 19.74], "nice": false, "zero": false}},
                      "text": {"field": "t"}}},
        {"data": {"name": "waves"}, "transform": [{"filter": "datum.g == 'minor'"}], "mark": {"type": "text", "fontSize": 18, "fontWeight": "bold", "align": "center", "baseline": "middle", "color": "#a020f0", "clip": false},
         "encoding": {"x": {"field": "i", "type": "quantitative", "scale": {"domain": [-0.2, 168.7], "nice": false, "zero": false}},
                      "y": {"field": "v", "type": "quantitative", "scale": {"type": "log", "domain": [10.84, 19.74], "nice": false, "zero": false}},
                      "text": {"field": "t"}}},
        {"data": {"name": "waves"}, "transform": [{"filter": "datum.g == 'minute'"}], "mark": {"type": "text", "fontSize": 17, "fontWeight": "bold", "align": "center", "baseline": "middle", "color": "#ff0000", "clip": false},
         "encoding": {"x": {"field": "i", "type": "quantitative", "scale": {"domain": [-0.2, 168.7], "nice": false, "zero": false}},
                      "y": {"field": "v", "type": "quantitative", "scale": {"type": "log", "domain": [10.84, 19.74], "nice": false, "zero": false}},
                      "text": {"field": "t"}}},
        {"data": {"name": "pticks"}, "mark": {"type": "text", "fontSize": 11, "dx": 4, "align": "left", "baseline": "middle", "color": "#2a2a2a", "clip": false},
         "encoding": {"x": {"datum": 168.7, "type": "quantitative", "scale": {"domain": [-0.2, 168.7], "nice": false, "zero": false}},
                      "y": {"field": "v", "type": "quantitative", "scale": {"type": "log", "domain": [10.84, 19.74], "nice": false, "zero": false}},
                      "text": {"field": "v", "type": "quantitative", "format": ".1f"}}},
        {"data": {"name": "ptags"}, "mark": {"type": "point", "shape": "M0,0L0.3,-0.38L2.5,-0.38L2.5,0.38L0.3,0.38Z", "size": 784, "filled": true, "fill": "#ffffff", "strokeWidth": 1.2, "opacity": 1, "clip": false},
         "encoding": {"x": {"datum": 168.7, "type": "quantitative", "scale": {"domain": [-0.2, 168.7], "nice": false, "zero": false}},
                      "y": {"field": "v", "type": "quantitative", "scale": {"type": "log", "domain": [10.84, 19.74], "nice": false, "zero": false}},
                      "stroke": {"field": "k", "type": "nominal", "scale": {"domain": ["band", "last", "ma2", "ma"], "range": ["#1e1e8a", "#000000", "#1e1e8a", "#e01010"]}, "legend": null}}},
        {"data": {"name": "ptags"}, "transform": [{"filter": "datum.k != 'last'"}], "mark": {"type": "text", "fontSize": 11, "dx": 19.6, "align": "center", "baseline": "middle", "color": "#111111", "clip": false},
         "encoding": {"x": {"datum": 168.7, "type": "quantitative", "scale": {"domain": [-0.2, 168.7], "nice": false, "zero": false}},
                      "y": {"field": "v", "type": "quantitative", "scale": {"type": "log", "domain": [10.84, 19.74], "nice": false, "zero": false}},
                      "text": {"field": "v", "type": "quantitative", "format": ".2f"}}},
        {"data": {"name": "ptags"}, "transform": [{"filter": "datum.k == 'last'"}], "mark": {"type": "text", "fontSize": 11.5, "fontWeight": "bold", "dx": 19.6, "align": "center", "baseline": "middle", "color": "#000000", "clip": false},
         "encoding": {"x": {"datum": 168.7, "type": "quantitative", "scale": {"domain": [-0.2, 168.7], "nice": false, "zero": false}},
                      "y": {"field": "v", "type": "quantitative", "scale": {"type": "log", "domain": [10.84, 19.74], "nice": false, "zero": false}},
                      "text": {"field": "v", "type": "quantitative", "format": ".2f"}}}
      ]
    },
    {
      "width": 562, "height": 13,
      "view": {"stroke": null, "fill": null},
      "data": {"values": []},
      "mark": {"type": "text", "text": ""}
    },
    {
      "width": 562, "height": 121,
      "layer": [
        {"data": {"name": "xticks"}, "mark": {"type": "rule", "color": "#dde0e7", "strokeWidth": 1},
         "encoding": {"x": {"field": "i", "type": "quantitative", "scale": {"domain": [-0.2, 168.7], "nice": false, "zero": false}}}},
        {"data": {"values": [{"v": 20}, {"v": 80}]}, "mark": {"type": "rule", "color": "#8a8a8a", "strokeWidth": 1},
         "encoding": {"y": {"field": "v", "type": "quantitative", "scale": {"domain": [-8, 107], "nice": false, "zero": false}}}},
        {"data": {"values": [{"v": 50}]}, "mark": {"type": "rule", "color": "#8a8a8a", "strokeWidth": 1, "strokeDash": [6, 3, 1, 3]},
         "encoding": {"y": {"field": "v", "type": "quantitative", "scale": {"domain": [-8, 107], "nice": false, "zero": false}}}},
        {"data": {"name": "strend"}, "mark": {"type": "line", "color": "#2b4cff", "strokeWidth": 1.2, "clip": false},
         "encoding": {"x": {"field": "i", "type": "quantitative", "scale": {"domain": [-0.2, 168.7], "nice": false, "zero": false}},
                      "y": {"field": "v", "type": "quantitative", "scale": {"domain": [-8, 107], "nice": false, "zero": false}}}},
        {"data": {"name": "stochD"}, "mark": {"type": "line", "color": "#b4143c", "strokeWidth": 1.1},
         "encoding": {"x": {"field": "i", "type": "quantitative", "scale": {"domain": [-0.2, 168.7], "nice": false, "zero": false}},
                      "y": {"field": "v", "type": "quantitative", "scale": {"domain": [-8, 107], "nice": false, "zero": false}}}},
        {"data": {"name": "stochK"}, "mark": {"type": "line", "color": "#000000", "strokeWidth": 1.5},
         "encoding": {"x": {"field": "i", "type": "quantitative", "scale": {"domain": [-0.2, 168.7], "nice": false, "zero": false}},
                      "y": {"field": "v", "type": "quantitative", "scale": {"domain": [-8, 107], "nice": false, "zero": false}}}},
        {"data": {"name": "xticks"}, "transform": [{"filter": "datum.kind == 'day'"}], "mark": {"type": "text", "fontSize": 11, "dy": 8, "align": "center", "baseline": "middle", "color": "#2a2a2a", "clip": false},
         "encoding": {"x": {"field": "i", "type": "quantitative", "scale": {"domain": [-0.2, 168.7], "nice": false, "zero": false}},
                      "y": {"datum": -8, "type": "quantitative", "scale": {"domain": [-8, 107], "nice": false, "zero": false}},
                      "text": {"field": "t"}}},
        {"data": {"name": "xticks"}, "transform": [{"filter": "datum.kind == 'month'"}], "mark": {"type": "text", "fontSize": 11, "fontWeight": "bold", "dy": 8, "align": "center", "baseline": "middle", "color": "#2a2a2a", "clip": false},
         "encoding": {"x": {"field": "i", "type": "quantitative", "scale": {"domain": [-0.2, 168.7], "nice": false, "zero": false}},
                      "y": {"datum": -8, "type": "quantitative", "scale": {"domain": [-8, 107], "nice": false, "zero": false}},
                      "text": {"field": "t"}}},
        {"data": {"name": "sticks"}, "mark": {"type": "text", "fontSize": 11, "dx": 4, "align": "left", "baseline": "middle", "color": "#2a2a2a", "clip": false},
         "encoding": {"x": {"datum": 168.7, "type": "quantitative", "scale": {"domain": [-0.2, 168.7], "nice": false, "zero": false}},
                      "y": {"field": "v", "type": "quantitative", "scale": {"domain": [-8, 107], "nice": false, "zero": false}},
                      "text": {"field": "v", "type": "quantitative", "format": "d"}}},
        {"data": {"name": "stags"}, "mark": {"type": "point", "shape": "M0,0L0.3,-0.38L2.5,-0.38L2.5,0.38L0.3,0.38Z", "size": 784, "filled": true, "fill": "#ffffff", "strokeWidth": 1.2, "opacity": 1, "clip": false},
         "encoding": {"x": {"datum": 168.7, "type": "quantitative", "scale": {"domain": [-0.2, 168.7], "nice": false, "zero": false}},
                      "y": {"field": "v", "type": "quantitative", "scale": {"domain": [-8, 107], "nice": false, "zero": false}},
                      "stroke": {"field": "k", "type": "nominal", "scale": {"domain": ["k", "d"], "range": ["#000000", "#b4143c"]}, "legend": null}}},
        {"data": {"name": "stags"}, "mark": {"type": "text", "fontSize": 11, "dx": 19.6, "align": "center", "baseline": "middle", "color": "#111111", "clip": false},
         "encoding": {"x": {"datum": 168.7, "type": "quantitative", "scale": {"domain": [-0.2, 168.7], "nice": false, "zero": false}},
                      "y": {"field": "v", "type": "quantitative", "scale": {"domain": [-8, 107], "nice": false, "zero": false}},
                      "text": {"field": "v", "type": "quantitative", "format": ".2f"}}}
      ]
    }
  ]
}
